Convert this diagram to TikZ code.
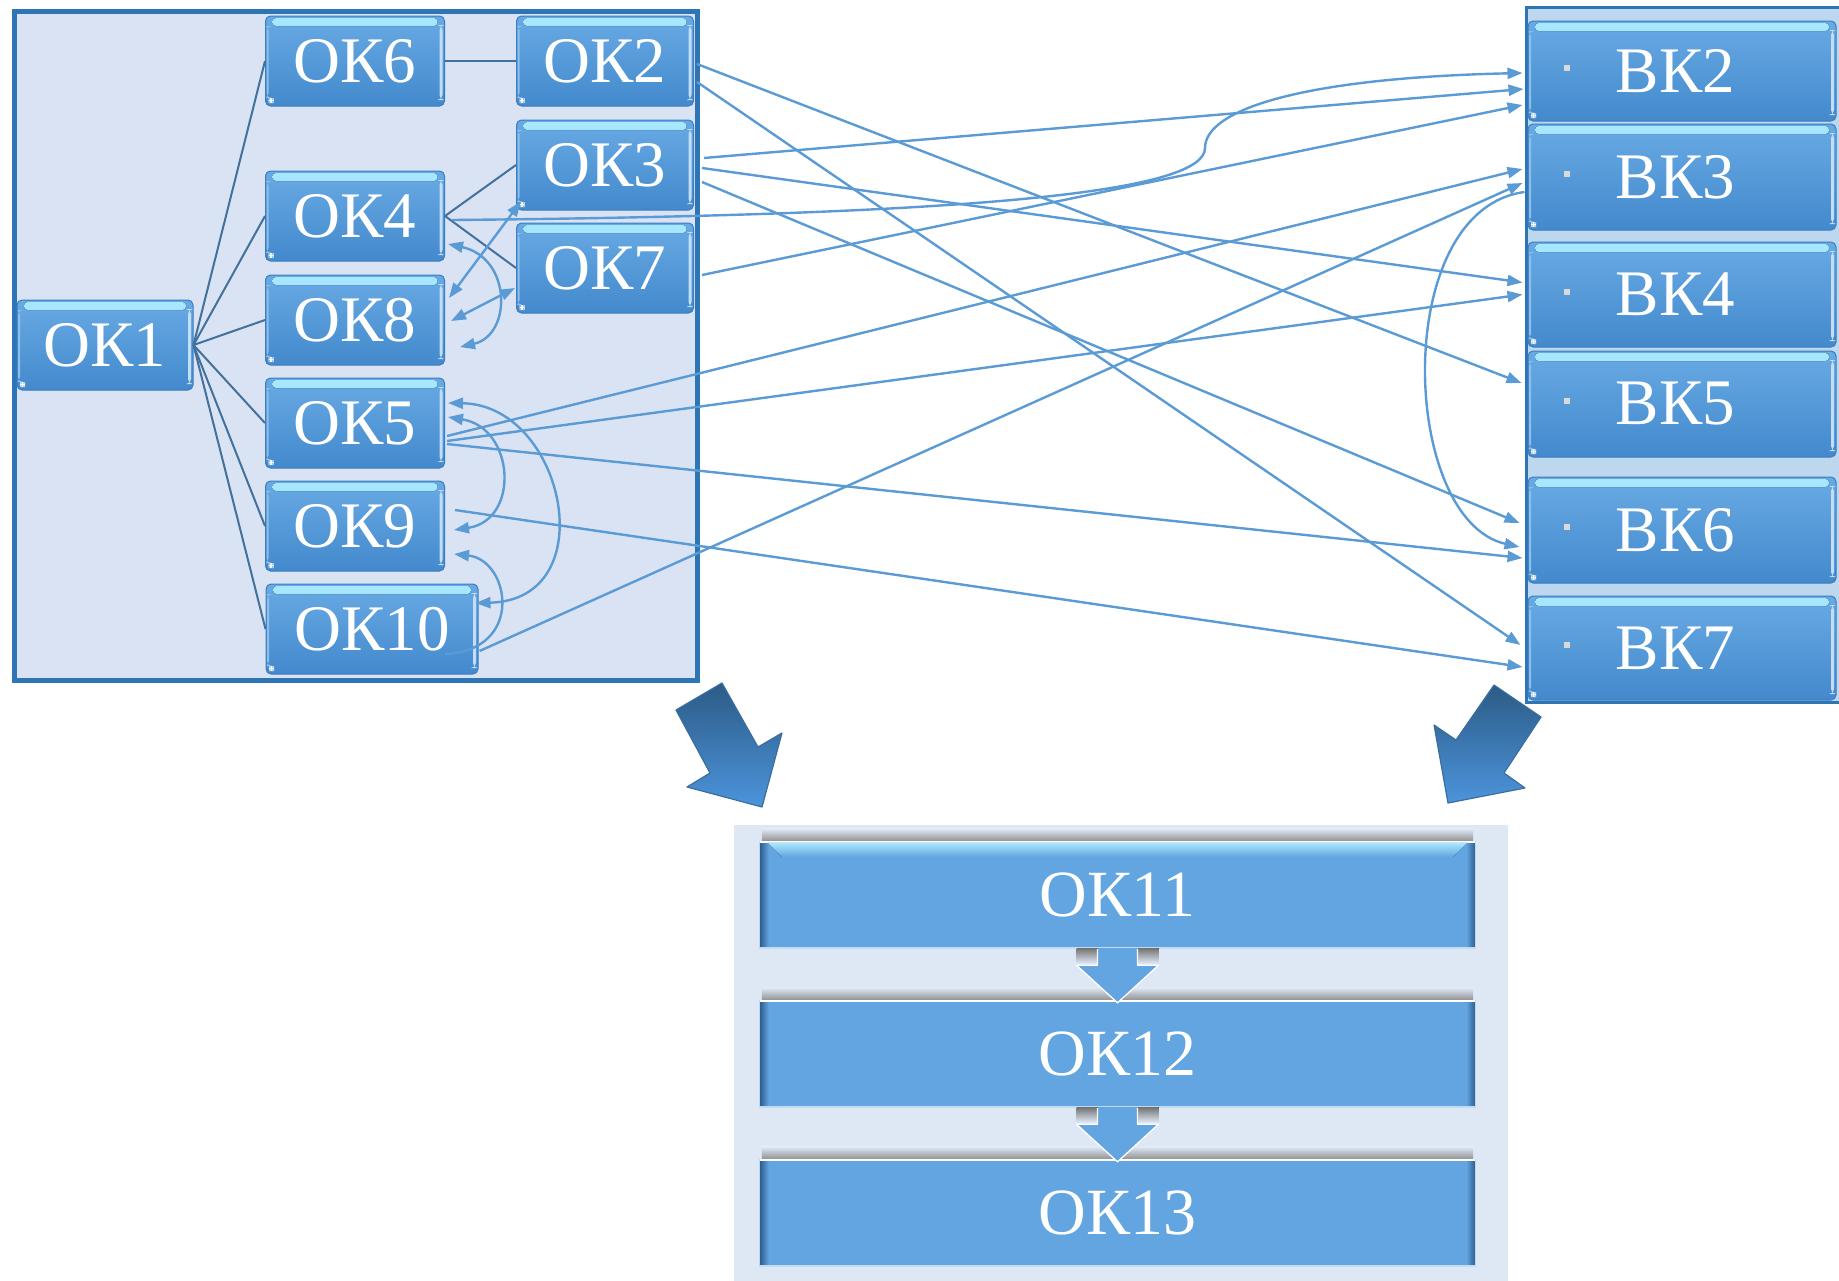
\documentclass[tikz,border=0pt]{standalone}
\usepackage{fontspec}
\setmainfont{Liberation Serif}
\usetikzlibrary{arrows.meta,calc}

\definecolor{paneL}{HTML}{DAE3F3}
\definecolor{paneR}{HTML}{BDD7EE}
\definecolor{paneB}{HTML}{DEE8F4}
\definecolor{frame}{HTML}{2E75B6}
\definecolor{treeline}{HTML}{41719C}
\definecolor{link}{HTML}{5B9BD5}
\definecolor{gTop}{HTML}{68AAE4}
\definecolor{gBot}{HTML}{4389CC}
\definecolor{gHi}{HTML}{A8E8FF}
\definecolor{gEdge}{HTML}{3A7DC0}
\definecolor{barFill}{HTML}{63A5E0}
\definecolor{barEdge}{HTML}{2B5E91}
\definecolor{bigTop}{HTML}{2C5B86}
\definecolor{bigBot}{HTML}{4C94DC}
\definecolor{bigLine}{HTML}{3A6E9E}

\newcommand\okfont{\fontsize{65}{70}\selectfont}
\newcommand\barfont{\fontsize{66}{72}\selectfont}

\begin{document}
\begin{tikzpicture}[x=1pt,y=-1pt,
  >={Triangle[length=15pt,width=11pt]},
  glossy/.style={rectangle, rounded corners=5pt, draw=gEdge, line width=1pt,
    top color=gTop, bottom color=gBot, text=white, inner sep=0pt,
    path picture={
      \fill[top color=gHi, bottom color=gHi!60!gTop, rounded corners=3.5pt]
        ([xshift=7pt,yshift=-2pt]path picture bounding box.north west) rectangle
        ([xshift=-7pt,yshift=-10pt]path picture bounding box.north east);
      \fill[white!60!gTop]
        ([xshift=-5pt,yshift=-9pt]path picture bounding box.north east) rectangle
        ([xshift=-2pt,yshift=6pt]path picture bounding box.south east);
      \fill[white!25!gTop]
        ([xshift=1pt,yshift=-10pt]path picture bounding box.north west) rectangle
        ([xshift=3pt,yshift=8pt]path picture bounding box.south west);
      \fill[white]
        ([xshift=3pt,yshift=3pt]path picture bounding box.south west) rectangle
        ([xshift=8pt,yshift=8pt]path picture bounding box.south west);
    }},
  okbox/.style={glossy, font=\okfont, minimum width=179pt, minimum height=90pt},
  bkbox/.style={glossy, font=\okfont, minimum width=308pt, minimum height=104pt},
  flatbar/.style={rectangle, fill=barFill, text=white, font=\barfont,
    minimum width=715pt, minimum height=106pt, inner sep=0pt},
  treelink/.style={draw=treeline, line width=2pt},
  linkline/.style={draw=link, line width=2.4pt},
  bigarrow/.style={top color=bigTop, bottom color=bigBot, draw=bigLine, line width=1.2pt, line join=round},
]
\useasboundingbox (0,0) rectangle (1839,1280);
\clip (0,0) rectangle (1839,1280);
\fill[white] (0,0) rectangle (1839,1280);

% ---------- left panel ----------
\node[draw=frame, fill=paneL, line width=5pt, minimum width=683pt, minimum height=669pt,
      inner sep=0pt] (lpane) at (356,346) {};

\node[okbox, minimum width=176pt] (ok1) at (105,345) {ОК1};
\node[okbox] (ok6) at (355,61) {ОК6};
\node[okbox] (ok4) at (355,216) {ОК4};
\node[okbox] (ok8) at (355,320) {ОК8};
\node[okbox] (ok5) at (355,423) {ОК5};
\node[okbox] (ok9) at (355,526) {ОК9};
\node[okbox, minimum width=212pt] (ok10) at (372,629) {ОК10};
\node[okbox, minimum width=177pt] (ok2) at (605,61) {ОК2};
\node[okbox, minimum width=177pt] (ok3) at (605,165) {ОК3};
\node[okbox, minimum width=177pt] (ok7) at (605,268) {ОК7};

% tree from ОК1
\foreach \t in {ok6,ok4,ok8,ok5,ok9,ok10}
  \draw[treelink] (ok1.east) -- (\t.west);
\draw[treelink] (ok6.east) -- (ok2.west);
\draw[treelink] (ok4.east) -- (ok3.west);
\draw[treelink] (ok4.east) -- (ok7.west);

% ---------- right panel ----------
\node[draw=frame, fill=paneR, line width=2.5pt, minimum width=330pt, minimum height=695pt,
      inner sep=0pt, anchor=north west] (rpane) at (1525,6) {};

\node[bkbox, minimum height=100pt] (bk2) at (1682,71) {\hspace*{-13pt}ВК2};
\node[bkbox, minimum height=106pt] (bk3) at (1682,177) {\hspace*{-13pt}ВК3};
\node[bkbox, minimum height=105pt] (bk4) at (1682,294.5) {\hspace*{-13pt}ВК4};
\node[bkbox, minimum height=106pt] (bk5) at (1682,404) {\hspace*{-13pt}ВК5};
\node[bkbox, minimum height=106pt] (bk6) at (1682,530) {\hspace*{-13pt}ВК6};
\node[bkbox, minimum height=104pt] (bk7) at (1682,648) {\hspace*{-13pt}ВК7};
\foreach \b in {bk2,bk3,bk4,bk5,bk6,bk7}
  \fill[gray!30] ($(\b.west)+(36,-6)$) rectangle +(6,6);

% ---------- links inside the left panel ----------
\draw[linkline,<->] ($(ok3.south west)+(5,-9)$) -- ($(ok8.east)+(4,-22)$);
\draw[linkline,<->] ($(ok7.west)+(-1,20)$) -- ($(ok8.east)+(6,1)$);
\draw[linkline,<->] ($(ok4.east)+(3,28)$) .. controls (512,258) and (512,335) .. ($(ok8.east)+(15,27)$);
\draw[linkline,<->] ($(ok5.east)+(3,-6)$) .. controls (515,428) and (520,520) .. ($(ok9.east)+(9,4)$);
\draw[linkline,<->] ($(ok5.east)+(3,-20)$) .. controls (565,405) and (605,600) .. ($(ok10.east)+(-3,-26)$);
\draw[linkline,<-] ($(ok9.east)+(9,28)$) .. controls (510,560) and (525,650) .. ($(ok10.east)+(-33,25)$);

% ---------- links from the left panel to the right panel ----------
\draw[linkline,->] ($(ok2.east)+(3,3)$) -- ($(bk5.west)+(-6,-21)$);
\draw[linkline,->] ($(ok2.east)+(3,21)$) -- ($(bk7.west)+(-7,-3)$);
\draw[linkline,->] ($(ok3.east)+(10,-7)$) -- ($(bk2.west)+(-4,18)$);
\draw[linkline,->] ($(ok3.east)+(8,3)$) -- ($(bk4.west)+(-5,-12)$);
\draw[linkline,->] ($(ok3.east)+(8,17)$) -- ($(bk6.west)+(-8,-7)$);
\draw[linkline,->] ($(ok4.east)+(7,4)$) .. controls (1000,215) and (1205,190) .. (1205,148)
                   .. controls (1205,110) and (1300,78) .. ($(bk2.west)+(-5,2)$);
\draw[linkline,->] ($(ok7.east)+(8,7)$) -- ($(bk2.west)+(-5,34)$);
\draw[linkline,->] ($(ok5.east)+(2,13)$) -- ($(bk3.west)+(-5,-8)$);
\draw[linkline,->] ($(ok5.east)+(2,18)$) -- ($(bk4.west)+(-5,0)$);
\draw[linkline,->] ($(ok5.east)+(2,21)$) -- ($(bk6.west)+(-5,28)$);
\draw[linkline,->] ($(ok9.east)+(10,-16)$) -- ($(bk7.west)+(-5,19)$);
\draw[linkline,->] ($(ok10.east)+(1,22)$) -- ($(bk3.west)+(-5,6)$);
\draw[linkline,->] ($(bk3.west)+(-3,15)$) .. controls (1390,210) and (1400,520) .. ($(bk6.west)+(-8,17)$);

% ---------- big arrows ----------
\draw[bigarrow] (722,683) -- (676,710) -- (710,773) -- (687,787) -- (762,807)
                -- (782,733) -- (758,747) -- cycle;
\draw[bigarrow] (1494,685) -- (1541,717) -- (1504,773) -- (1525,788) -- (1448,803)
                -- (1434,725) -- (1456,740) -- cycle;

% ---------- bottom panel ----------
\fill[paneB] (734,825) rectangle (1508,1290);

\node[flatbar] (ok11) at (1117.5,895) {ОК11};
\node[flatbar] (ok12) at (1117.5,1054) {ОК12};
\node[flatbar] (ok13) at (1117.5,1213) {ОК13};

\foreach \b in {ok11,ok12,ok13} {
  \fill[top color=paneB, bottom color=black!45] ($(\b.north west)+(2,-13)$) rectangle ($(\b.north east)+(-2,0)$);
  \fill[left color=barEdge, right color=barFill] (\b.north west) rectangle ($(\b.south west)+(9,0)$);
  \fill[left color=barFill, right color=barEdge] ($(\b.north east)+(-9,0)$) rectangle (\b.south east);
  \draw[white, line width=1.5pt] (\b.north west) -- (\b.north east);
  \draw[white!60!barFill, line width=1.5pt] (\b.south west) -- (\b.south east);
}
\fill[top color=gHi, bottom color=barFill]
  ($(ok11.north west)+(8,1)$) -- ($(ok11.north east)+(-8,1)$)
  -- ($(ok11.north east)+(-22,15)$) -- ($(ok11.north west)+(22,15)$) -- cycle;

% small arrows between the stacked bars
\foreach \a/\b in {ok11/ok12, ok12/ok13} {
  \fill[top color=black!55, bottom color=paneB] ($(\a.south)+(-41,0)$) rectangle ($(\a.south)+(-20,15)$);
  \fill[top color=black!55, bottom color=paneB] ($(\a.south)+(20,0)$) rectangle ($(\a.south)+(41,15)$);
  \fill[barFill] ($(\a.south)+(-20,0)$) -- ($(\a.south)+(-20,17)$) -- ($(\a.south)+(-41,17)$)
     -- ($(\b.north)+(0,2)$) -- ($(\a.south)+(41,17)$) -- ($(\a.south)+(20,17)$)
     -- ($(\a.south)+(20,0)$) -- cycle;
  \draw[white, line width=1.3pt, line join=round] ($(\a.south)+(-20,1)$) -- ($(\a.south)+(-20,17)$) -- ($(\a.south)+(-41,17)$)
     -- ($(\b.north)+(0,2)$) -- ($(\a.south)+(41,17)$) -- ($(\a.south)+(20,17)$) -- ($(\a.south)+(20,1)$);
}
\end{tikzpicture}
\end{document}
